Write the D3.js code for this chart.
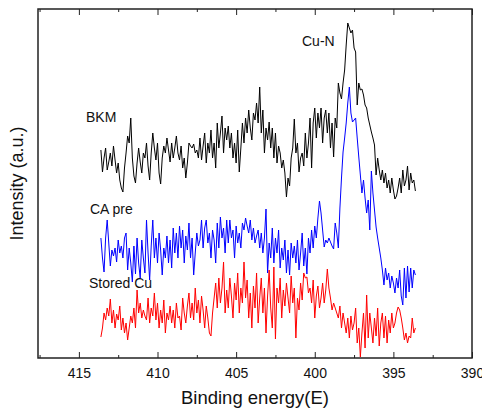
<!DOCTYPE html>
<html>
<head>
<meta charset="utf-8">
<title>XPS N 1s</title>
<script src="https://d3js.org/d3.v7.min.js"></script>
<style>
    body { margin: 0; background: #fff; font-family: "Liberation Sans", Arial, sans-serif; }
    svg { display: block; }
    .tick text { font-family: "Liberation Sans", Arial, sans-serif; }
</style>
</head>
<body>
<div id="chart"></div>
<script>
// binding energy grid: 413.6 eV down to 393.6 eV, 0.1 eV step
var eStart = 413.6, eStep = 0.1;

// intensities (arbitrary units, stacked offsets as in the figure)
var bkm = [
    208, 186, 200, 210, 188, 196, 205, 192, 212, 198,
    185, 195, 178, 170, 166, 190, 205, 222, 215, 240,
    200, 182, 175, 195, 210, 196, 185, 205, 200, 215,
    192, 178, 205, 225, 210, 198, 215, 185, 174, 200,
    212, 205, 220, 208, 196, 215, 200, 210, 222, 205,
    198, 212, 190, 200, 180, 195, 215, 212, 210, 214,
    205, 208, 200, 220, 198, 212, 225, 195, 215, 205,
    228, 200, 215, 190, 235, 210, 225, 242, 205, 230,
    218, 232, 210, 225, 200, 215, 195, 228, 186, 210,
    235, 215, 240, 225, 248, 230, 218, 245, 238, 255,
    235, 271, 225, 248, 205, 230, 218, 236, 210, 230,
    200, 225, 195, 212, 205, 190, 198, 185, 161, 180,
    172, 200, 210, 239, 205, 215, 186, 200, 205, 192,
    225, 200, 215, 240, 190, 235, 250, 220, 245, 230,
    250, 215, 240, 248, 225, 245, 210, 235, 201, 240,
    230, 275, 265, 259, 275, 288, 313, 335, 330, 325,
    328, 310, 306, 253, 275, 268, 269, 263, 253, 250,
    240, 233, 226, 220, 213, 183, 200, 188, 178, 188,
    175, 185, 170, 178, 165, 180, 168, 159, 162, 170,
    180, 165, 188, 172, 178, 192, 168, 185, 175, 178,
    167
];

var caPre = [
    120, 100, 86, 120, 138, 115, 92, 108, 102, 110,
    96, 118, 105, 112, 100, 120, 125, 88, 110, 95,
    76, 112, 84, 120, 95, 80, 118, 100, 85, 138,
    105, 78, 112, 138, 100, 120, 95, 125, 108, 83,
    110, 100, 122, 95, 118, 90, 130, 105, 125, 100,
    132, 110, 128, 95, 122, 108, 135, 100, 120, 83,
    105, 125, 112, 118, 138, 110, 130, 138, 115, 125,
    100, 128, 118, 95, 135, 110, 141, 120, 130, 105,
    138, 115, 138, 120, 128, 100, 132, 115, 125, 110,
    135, 128, 140, 132, 125, 138, 118, 130, 115, 122,
    128, 110, 125, 105, 120, 149, 85, 115, 100, 130,
    95, 120, 105, 128, 90, 110, 98, 118, 85, 108,
    83, 115, 100, 112, 95, 118, 88, 105, 125, 92,
    110, 84, 120, 105, 128, 110, 132, 120, 140, 157,
    145, 128, 111, 118, 115, 120, 116, 112, 109, 135,
    125, 110, 150, 180, 206, 220, 235, 255, 271, 245,
    236, 238, 240, 220, 201, 183, 165, 178, 160, 145,
    158, 128, 187, 165, 148, 131, 120, 110, 100, 88,
    73, 90, 78, 85, 70, 82, 75, 65, 80, 70,
    88, 62, 53, 90, 60, 92, 66, 90, 70, 88,
    83
];

var storedCu = [
    21, 30, 45, 38, 50, 42, 59, 35, 48, 30,
    44, 38, 52, 28, 40, 25, 35, 18, 30, 42,
    35, 50, 30, 68, 45, 55, 40, 48, 42, 38,
    60, 35, 50, 42, 65, 38, 55, 30, 48, 35,
    58, 25, 45, 38, 52, 35, 48, 30, 55, 40,
    42, 28, 60, 45, 35, 52, 65, 40, 55, 38,
    70, 45, 58, 35, 62, 48, 30, 52, 40, 25,
    22, 45, 60, 75, 50, 80, 55, 70, 96, 45,
    68, 50, 80, 62, 40, 75, 58, 85, 45, 70,
    55, 96, 60, 78, 40, 65, 30, 72, 50, 85,
    35, 60, 80, 45, 70, 25, 62, 88, 50, 30,
    91, 19, 70, 55, 80, 40, 68, 52, 75, 60,
    45, 82, 55, 70, 20, 60, 48, 75, 58, 85,
    80, 81, 65, 70, 55, 78, 40, 62, 72, 50,
    60, 75, 55, 68, 89, 70, 60, 48, 55, 50,
    45, 40, 52, 30, 45, 35, 25, 40, 20, 42,
    28, 35, 50, 15, 30, 1, 25, 45, 10, 63,
    20, 45, 30, 15, 40, 22, 50, 12, 35, 45,
    20, 42, 15, 38, 25, 45, 30, 35, 45, 51,
    48, 40, 30, 18, 25, 15, 22, 20, 40, 25,
    30
];

var seriesNames = ["BKM", "CA pre", "Stored Cu"];
var seriesColors = ["#000000", "#0000ff", "#ff0000"];
var xTicks = [415, 410, 405, 400, 395, 390];

var W = 482, H = 413;
var margin = {top: 9, right: 10, bottom: 55, left: 38};
var w = W - margin.left - margin.right,
    h = H - margin.top - margin.bottom;

var svg = d3.select("#chart").append("svg")
    .attr("width", W)
    .attr("height", H);

var g = svg.append("g")
    .attr("transform", "translate(" + margin.left + "," + margin.top + ")");

var x = d3.scaleLinear().domain([417.6, 390]).range([0, w]);
var y = d3.scaleLinear().domain([0, 349]).range([h, 0]);

function energy(i) { return eStart - eStep * i; }

var line = d3.line()
    .x(function(d, i) { return x(energy(i)); })
    .y(function(d) { return y(d); });

[bkm, caPre, storedCu].forEach(function(s, k) {
    g.append("path")
        .datum(s)
        .attr("fill", "none")
        .attr("stroke", seriesColors[k])
        .attr("stroke-width", 1)
        .attr("stroke-linejoin", "round")
        .attr("d", line);
});

// axes: ticks point inward, top mirror
var minor = d3.range(390, 418, 2.5).filter(function(v) { return v % 5 !== 0; });

var bottom = g.append("g").attr("transform", "translate(0," + h + ")")
    .call(d3.axisBottom(x).tickValues(xTicks).tickSizeInner(-6).tickSizeOuter(0).tickPadding(10).tickFormat(d3.format("d")));
bottom.select(".domain").remove();
bottom.selectAll("text").attr("font-size", 14).attr("fill", "#111");
bottom.selectAll("line").attr("stroke", "#222");

g.append("g").attr("transform", "translate(0," + h + ")")
    .call(d3.axisBottom(x).tickValues(minor).tickSizeInner(-3).tickSizeOuter(0).tickFormat(""))
    .call(function(a) { a.select(".domain").remove(); a.selectAll("line").attr("stroke", "#222"); });

g.append("g")
    .call(d3.axisTop(x).tickValues(xTicks).tickSizeInner(-6).tickSizeOuter(0).tickFormat(""))
    .call(function(a) { a.select(".domain").remove(); a.selectAll("line").attr("stroke", "#222"); });

g.append("g")
    .call(d3.axisTop(x).tickValues(minor).tickSizeInner(-3).tickSizeOuter(0).tickFormat(""))
    .call(function(a) { a.select(".domain").remove(); a.selectAll("line").attr("stroke", "#222"); });

g.append("rect")
    .attr("width", w)
    .attr("height", h)
    .attr("fill", "none")
    .attr("stroke", "#222")
    .attr("stroke-width", 1.5);

// series labels
var labels = [
    {t: "Cu-N", x: 302, y: 46},
    {t: seriesNames[0], x: 86, y: 122},
    {t: seriesNames[1], x: 90, y: 214},
    {t: seriesNames[2], x: 89, y: 288}
];
svg.selectAll(".lab").data(labels).enter().append("text")
    .attr("class", "lab")
    .attr("x", function(d) { return d.x; })
    .attr("y", function(d) { return d.y; })
    .attr("font-size", 14)
    .attr("fill", "#111")
    .text(function(d) { return d.t; });

svg.append("text")
    .attr("x", margin.left + w / 2)
    .attr("y", 404)
    .attr("text-anchor", "middle")
    .attr("font-size", 18.5)
    .attr("fill", "#111")
    .text("Binding energy(E)");

svg.append("text")
    .attr("transform", "translate(23," + (margin.top + h / 2) + ") rotate(-90)")
    .attr("text-anchor", "middle")
    .attr("font-size", 18)
    .attr("fill", "#111")
    .text("Intensity (a.u.)");
</script>
</body>
</html>
